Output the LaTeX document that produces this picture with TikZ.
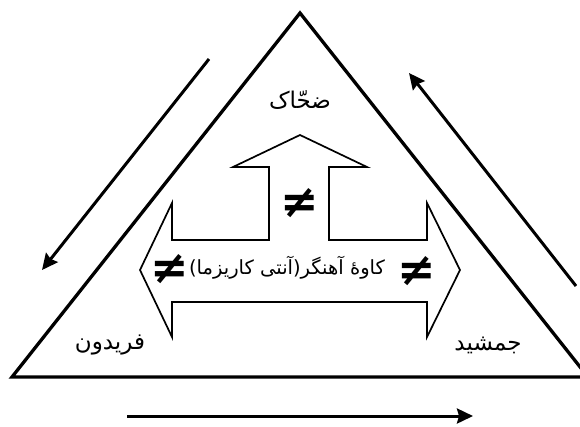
\documentclass[tikz,border=0pt]{standalone}
\usepackage{fontspec}
\usepackage{tikz}
\usetikzlibrary{positioning, arrows.meta}
\TeXXeTstate=1
\newfontfamily\arabicfont[Script=Arabic]{DejaVu Sans}
\newfontfamily\symbfont{DejaVu Sans Bold}

\begin{document}
\begin{tikzpicture}[
    x=1pt, y=-1pt,
    frame/.style={line width=3.3pt, line join=miter},
    outline/.style={line width=1.7pt, line join=miter},
    flow/.style={-{Stealth[length=16pt, width=15pt, inset=2pt]}, line width=3pt},
    persian/.style={font=\arabicfont\fontsize{23}{27}\selectfont, inner sep=1pt},
    motto/.style={font=\arabicfont\fontsize{19.5}{23}\selectfont, inner sep=1pt},
    neq/.style={font=\symbfont\fontsize{46}{46}\selectfont, inner sep=1pt},
  ]
    \clip (0,0) rectangle (580,426);

    % triangle
    \coordinate (apex) at (300,13);
    \coordinate (bl) at (12,377);
    \coordinate (br) at (588,377);
    \draw[frame] (apex) -- (bl) -- (br) -- cycle;

    % cycle arrows
    \coordinate (lTail) at (209,59);
    \coordinate (lHead) at (42,270);
    \coordinate (rTail) at (576,286);
    \coordinate (rHead) at (409,73);
    \coordinate (bTail) at (127,416);
    \coordinate (bHead) at (473,416);
    \foreach \a/\b in {lTail/lHead, rTail/rHead, bTail/bHead}
      \draw[flow] (\a) -- (\b);

    % arrow block
    \draw[outline] (300,135) -- (367,167) -- (329,167) -- (329,240) -- (427,240)
      -- (427,203) -- (460,270) -- (427,337) -- (427,302) -- (172,302)
      -- (172,337) -- (140,270) -- (172,203) -- (172,240) -- (269,240)
      -- (269,167) -- (233,167) -- cycle;

    % names
    \node[persian] (zahhak) at (300,100) {\beginR ضحّاک\endR};
    \node[motto] (kaveh) at (287,268) {\beginR کاوهٔ آهنگر(آنتی کاریزما)\endR};
    \node[persian] (fereydun) at (110,345) {\beginR فریدون\endR};
    \node[persian] (jamshid) at (488,345) {\beginR جمشید\endR};

    % not equal
    \node[neq] (neqTop) at (300,203) {≠};
    \node[neq] (neqLeft) at (170,269) {≠};
    \node[neq] (neqRight) at (417,271) {≠};
  \end{tikzpicture}
\end{document}
